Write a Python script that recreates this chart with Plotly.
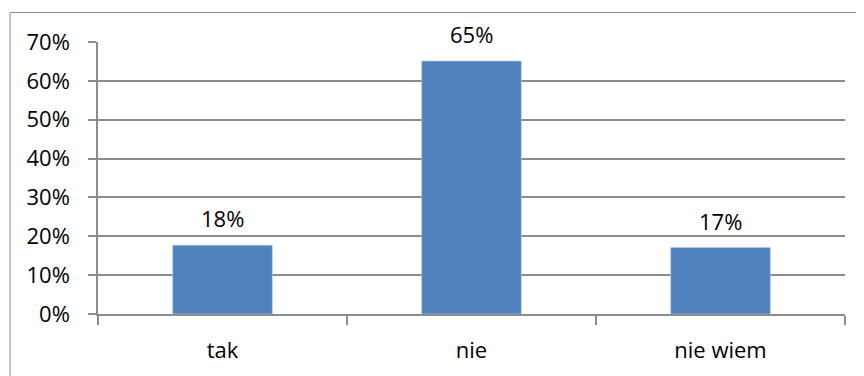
import plotly.graph_objects as go

categories = ["tak", "nie", "nie wiem"]
values = [0.177, 0.651, 0.171]
y_ticks = [0, 0.1, 0.2, 0.3, 0.4, 0.5, 0.6, 0.7]

FONT = "Open Sans"
FS = 22
GRID = "#8c8c8c"

# the page body adds an 8px offset; compensate so the plot lands where the reference has it
OFF = 8
W, H = 864 - OFF, 376 - OFF
L, T, R, B = 98 - OFF, 42 - OFF, 19, 62
PW, PH = W - L - R, H - T - B

fig = go.Figure()
fig.add_trace(go.Bar(
    x=categories, y=values,
    marker=dict(color="#4F81BD", line=dict(color="#b9cde5", width=0.6)),
    width=0.4,
    hoverinfo="skip",
))

for c, v in zip(categories, values):
    fig.add_annotation(
        x=c, y=v, text=f"{round(v * 100)}%", showarrow=False,
        yanchor="middle", yshift=27,
        font=dict(family=FONT, size=FS, color="#000000"),
    )

# outer chart border (left at x=10, top at y=12 in page pixels)
bx0 = (10 - OFF - L) / PW
by1 = (H - B - (12.5 - OFF)) / PH
fig.add_shape(
    type="rect", xref="paper", yref="paper",
    x0=bx0, x1=1.06, y0=-0.4, y1=by1,
    line=dict(color="#8a8a8a", width=1), fillcolor="rgba(0,0,0,0)",
    layer="below",
)

fig.update_layout(
    width=W, height=H,
    margin=dict(l=L, r=R, t=T, b=B),
    paper_bgcolor="white", plot_bgcolor="white",
    showlegend=False,
    font=dict(family=FONT, size=FS, color="#000000"),
)
fig.update_xaxes(
    type="category",
    showline=True, linecolor=GRID, linewidth=1.5,
    ticks="outside", tickson="boundaries", ticklen=9, tickcolor=GRID, tickwidth=1.5,
    showgrid=False, ticklabelstandoff=16,
    tickfont=dict(family=FONT, size=FS, color="#000000"),
)
fig.update_yaxes(
    range=[0, 0.7], tickvals=y_ticks, tickformat=".0%",
    showline=True, linecolor=GRID, linewidth=1.5,
    ticks="outside", ticklen=8, tickcolor=GRID, tickwidth=1.5,
    showgrid=True, gridcolor=GRID, gridwidth=1.5,
    zeroline=False, ticklabelstandoff=14,
    tickfont=dict(family=FONT, size=FS, color="#000000"),
)

fig.write_html("out.html")
